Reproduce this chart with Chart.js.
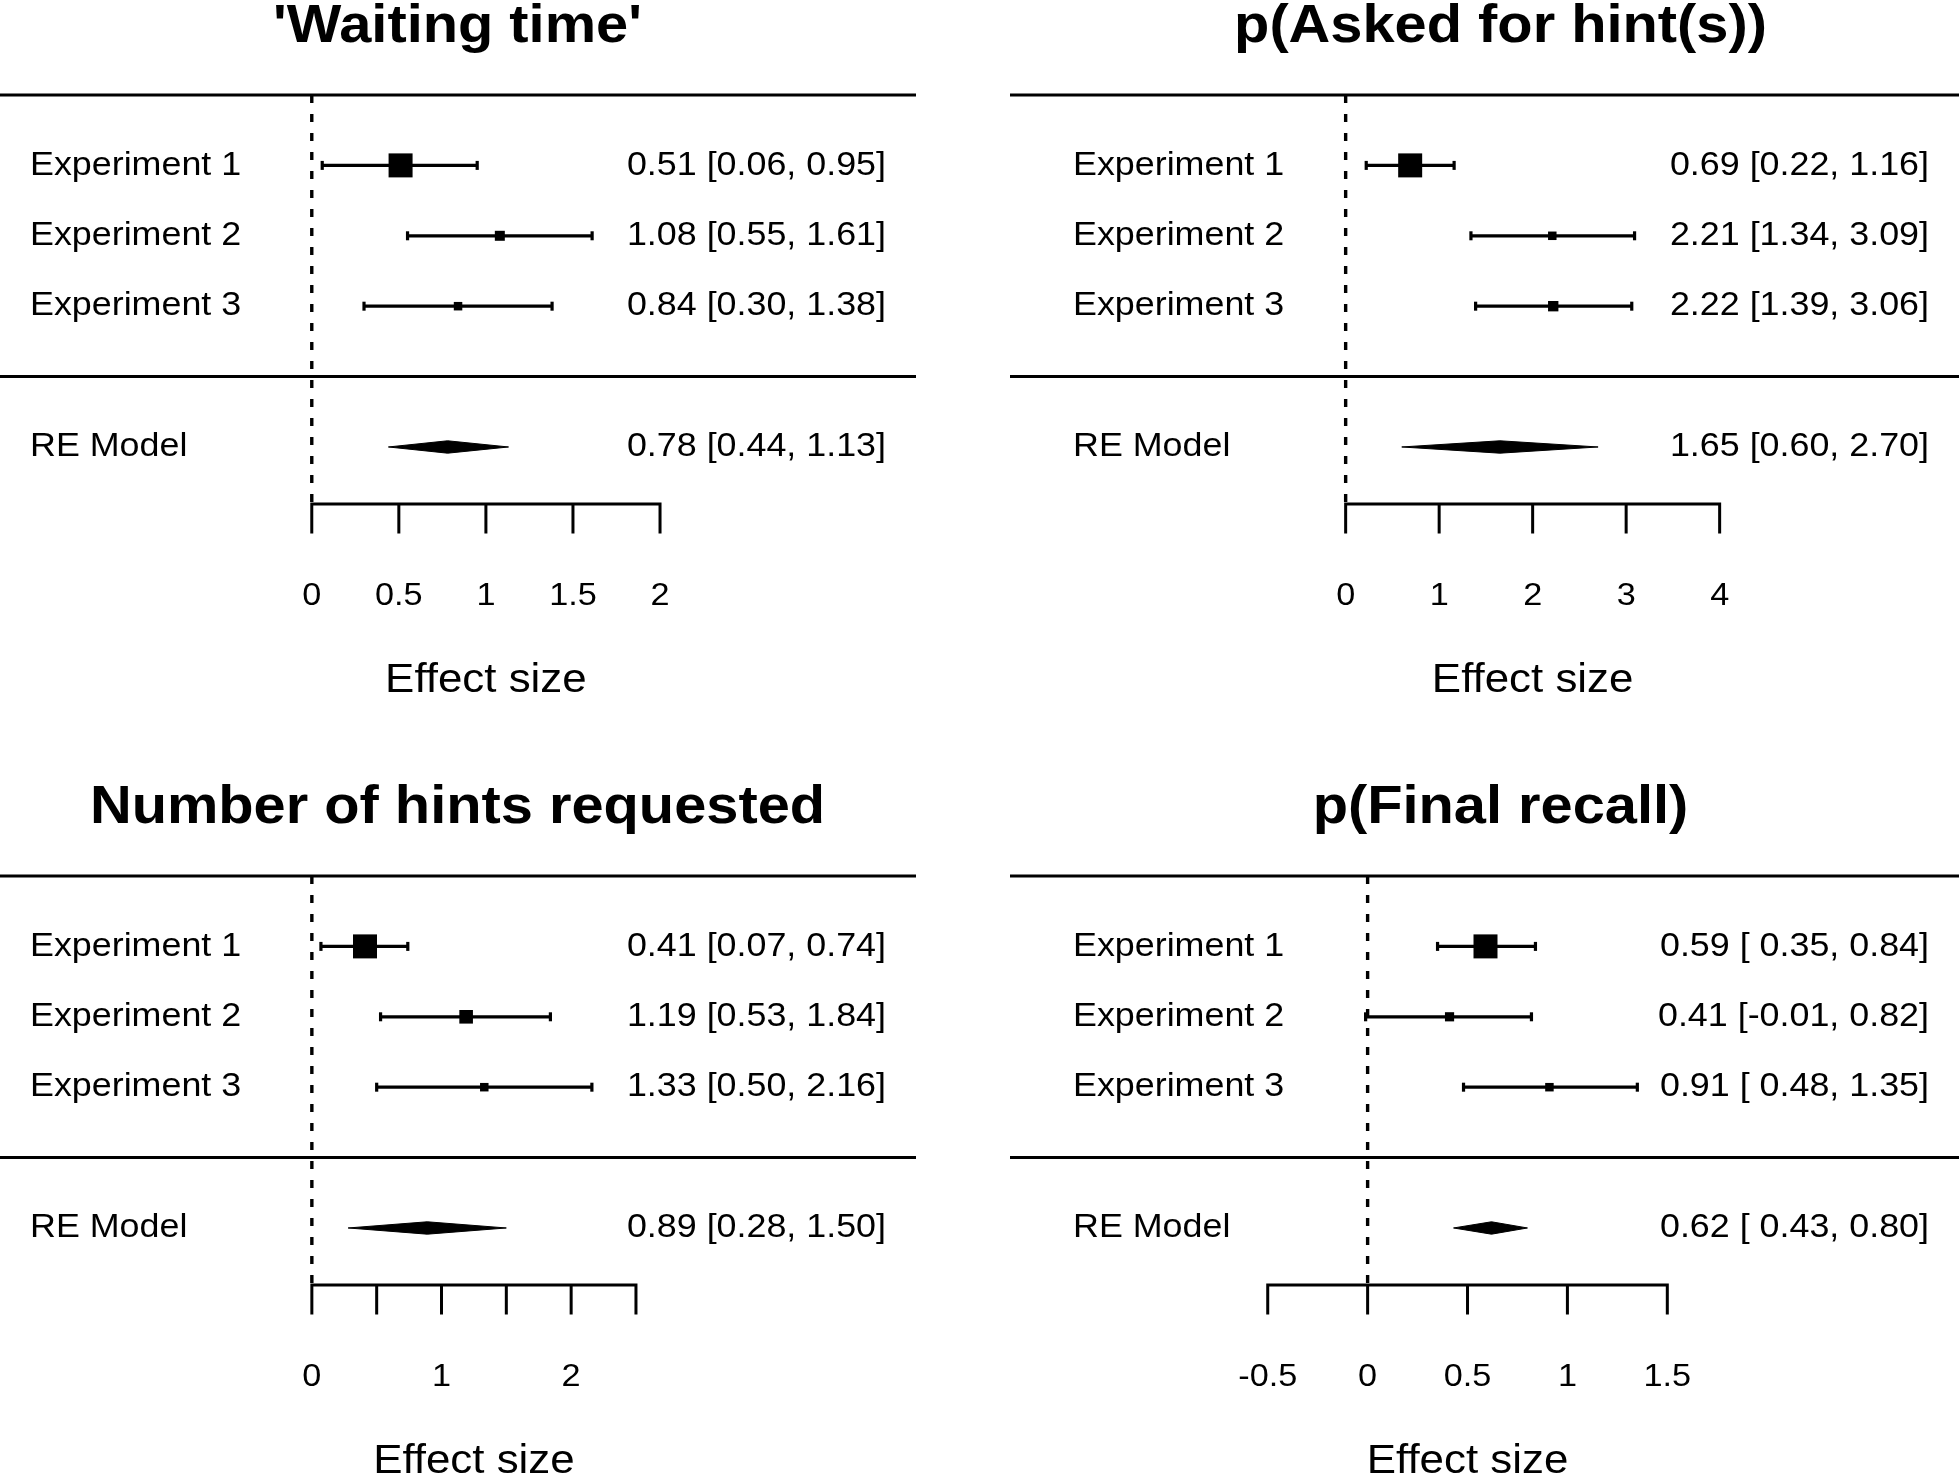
<!DOCTYPE html>
<html>
<head>
<meta charset="utf-8">
<script src="https://cdn.jsdelivr.net/npm/chart.js@4.4.1/dist/chart.umd.min.js"></script>
<style>
  html, body { margin: 0; padding: 0; background: #fff; }
  body { width: 1959px; height: 1476px; position: relative; overflow: hidden; }
  canvas { position: absolute; }
</style>
</head>
<body>
<canvas id="waiting"></canvas>
<canvas id="asked"></canvas>
<canvas id="hints"></canvas>
<canvas id="recall"></canvas>
<script>
const studies = ['Experiment 1', 'Experiment 2', 'Experiment 3'];
const summaryLabel = 'RE Model';
const axisTitle = 'Effect size';

// 'Waiting time'
const waitEst = [0.51, 1.08, 0.84];
const waitLow = [0.06, 0.55, 0.30];
const waitHigh = [0.95, 1.61, 1.38];
const waitWeight = [39.3, 30.8, 29.9];
const waitRE = [0.78, 0.44, 1.13]; // estimate, lower, upper
const waitTicks = [0, 0.5, 1, 1.5, 2];
const waitTickLabels = ['0', '0.5', '1', '1.5', '2'];

// p(Asked for hint(s))
const askEst = [0.69, 2.21, 2.22];
const askLow = [0.22, 1.34, 1.39];
const askHigh = [1.16, 3.09, 3.06];
const askWeight = [37.0, 31.2, 31.9];
const askRE = [1.65, 0.60, 2.70];
const askTicks = [0, 1, 2, 3, 4];
const askTickLabels = ['0', '1', '2', '3', '4'];

// Number of hints requested
const hintEst = [0.41, 1.19, 1.33];
const hintLow = [0.07, 0.53, 0.50];
const hintHigh = [0.74, 1.84, 2.16];
const hintWeight = [42.8, 31.4, 25.8];
const hintRE = [0.89, 0.28, 1.50];
const hintTicks = [0, 0.5, 1, 1.5, 2, 2.5];
const hintTickLabels = ['0', '', '1', '', '2', ''];

// p(Final recall)
const recallEst = [0.59, 0.41, 0.91];
const recallLow = [0.35, -0.01, 0.48];
const recallHigh = [0.84, 0.82, 1.35];
const recallWeight = [60.0, 20.9, 19.1];
const recallRE = [0.62, 0.43, 0.80];
const recallTicks = [-0.5, 0, 0.5, 1, 1.5];
const recallTickLabels = ['-0.5', '0', '0.5', '1', '1.5'];

// layout
const COL_LEFT = [-33, 1010];
const COL_WIDTH = 949;
const ROW_TOP = [0, 781];
const ROW_HEIGHT = [781, 695];
const PLOT_TOP = 95;
const PLOT_BOTTOM = 504;
const YMIN = -1.81;
const DIAMOND_H = 0.088;
const MIN_SIDE = 8.5, MAX_SIDE = 24;
const TICK_LEN = 28;
const FAMILY = '"Liberation Sans", Arial, Helvetica, sans-serif';
const TEXT_SX = 1.07;

function drawText(ctx, str, x, y, align, font) {
  ctx.save();
  ctx.font = font;
  ctx.textAlign = align;
  ctx.textBaseline = 'middle';
  ctx.translate(x, y);
  ctx.scale(TEXT_SX, 1);
  ctx.fillText(str, 0, 0);
  ctx.restore();
}

// "0.59 [ 0.35, 0.84]" style, columns padded like R does
function annotations(p) {
  const cols = [p.est.concat(p.re[0]), p.low.concat(p.re[1]), p.high.concat(p.re[2])]
    .map(c => c.map(v => v.toFixed(2)))
    .map(c => { const w = Math.max(...c.map(s => s.length)); return c.map(s => s.padStart(w, ' ')); });
  return cols[0].map((e, i) => e + ' [' + cols[1][i] + ', ' + cols[2][i] + ']');
}

function forestPlugin(p) {
  return {
    id: 'forestText',
    afterDatasetsDraw(chart) {
      const { ctx, chartArea: a, scales: { x, y } } = chart;
      const k = p.est.length;
      const ann = annotations(p);
      ctx.save();
      ctx.fillStyle = '#000';
      ctx.strokeStyle = '#000';

      drawText(ctx, p.title, (a.left + a.right) / 2 + 16, 27, 'center', 'bold 54px ' + FAMILY);

      const labels = studies.concat(summaryLabel);
      const rows = p.est.map((_, i) => k - i).concat(-1);
      labels.forEach((lab, i) => {
        const ry = y.getPixelForValue(rows[i]);
        drawText(ctx, lab, a.left + 63, ry, 'left', '33.5px ' + FAMILY);
        drawText(ctx, ann[i], a.right - 30, ry, 'right', '33.5px ' + FAMILY);
      });

      // axis
      const ay = y.getPixelForValue(YMIN);
      ctx.lineWidth = 3;
      ctx.lineCap = 'square';
      ctx.beginPath();
      ctx.moveTo(x.getPixelForValue(p.ticks[0]), ay);
      ctx.lineTo(x.getPixelForValue(p.ticks[p.ticks.length - 1]), ay);
      p.ticks.forEach(t => {
        const tx = x.getPixelForValue(t);
        ctx.moveTo(tx, ay);
        ctx.lineTo(tx, ay + TICK_LEN);
      });
      ctx.stroke();
      p.ticks.forEach((t, i) => {
        if (p.tickLabels[i]) drawText(ctx, p.tickLabels[i], x.getPixelForValue(t), ay + 92, 'center', '32px ' + FAMILY);
      });
      const mid = (p.ticks[0] + p.ticks[p.ticks.length - 1]) / 2;
      drawText(ctx, axisTitle, x.getPixelForValue(mid), ay + 177, 'center', '41px ' + FAMILY);
      ctx.restore();
    }
  };
}

function segment(points, extra) {
  return Object.assign({
    data: points, showLine: true, borderColor: '#000', borderWidth: 3,
    pointRadius: 0, clip: false, tension: 0
  }, extra || {});
}

function makeForest(id, col, row, p) {
  const canvas = document.getElementById(id);
  const h = ROW_HEIGHT[row];
  canvas.width = COL_WIDTH;
  canvas.height = h;
  canvas.style.left = COL_LEFT[col] + 'px';
  canvas.style.top = ROW_TOP[row] + 'px';
  canvas.style.width = COL_WIDTH + 'px';
  canvas.style.height = h + 'px';

  const k = p.est.length;
  const rows = p.est.map((_, i) => k - i);
  const wMin = Math.min(...p.weight), wMax = Math.max(...p.weight);
  const datasets = [];

  // top rule and separator above the summary row
  [k + 1, 0].forEach(r => datasets.push(segment([{ x: p.xlim[0], y: r }, { x: p.xlim[1], y: r }])));
  // dotted line at zero
  datasets.push(segment([{ x: 0, y: k + 1 }, { x: 0, y: YMIN }], { borderDash: [8, 11], borderWidth: 3.4 }));
  // confidence intervals with end caps
  p.est.forEach((e, i) => datasets.push(segment(
    [{ x: p.low[i], y: rows[i] }, { x: p.high[i], y: rows[i] }],
    { pointStyle: 'line', pointRotation: 90, pointRadius: 4.5, pointBorderWidth: 3.2, pointBorderColor: '#000', borderWidth: 3.2 }
  )));
  // squares sized by weight
  datasets.push({
    data: p.est.map((e, i) => ({ x: e, y: rows[i] })),
    pointStyle: 'rect', pointBackgroundColor: '#000', pointBorderWidth: 0, clip: false,
    pointRadius: c => {
      const w = p.weight[c.dataIndex];
      return (MIN_SIDE + (MAX_SIDE - MIN_SIDE) * (w - wMin) / (wMax - wMin)) / Math.SQRT2;
    }
  });
  // summary diamond
  const [m, lo, hi] = p.re;
  datasets.push(segment(
    [{ x: lo, y: -1 }, { x: m, y: -1 + DIAMOND_H }, { x: hi, y: -1 }, { x: m, y: -1 - DIAMOND_H }, { x: lo, y: -1 }],
    { fill: 'shape', backgroundColor: '#000', borderWidth: 1 }
  ));

  return new Chart(canvas.getContext('2d'), {
    type: 'scatter',
    data: { datasets },
    options: {
      responsive: false,
      animation: false,
      events: [],
      layout: { autoPadding: false, padding: { top: PLOT_TOP, bottom: h - PLOT_BOTTOM, left: 0, right: 0 } },
      plugins: { legend: { display: false }, tooltip: { enabled: false } },
      scales: {
        x: { type: 'linear', min: p.xlim[0], max: p.xlim[1], display: false },
        y: { type: 'linear', min: YMIN, max: k + 1, display: false }
      }
    },
    plugins: [forestPlugin(p)]
  });
}

makeForest('waiting', 0, 0, {
  title: "'Waiting time'", est: waitEst, low: waitLow, high: waitHigh, weight: waitWeight, re: waitRE,
  ticks: waitTicks, tickLabels: waitTickLabels, xlim: [-1.98, 3.47]
});
makeForest('asked', 1, 0, {
  title: 'p(Asked for hint(s))', est: askEst, low: askLow, high: askHigh, weight: askWeight, re: askRE,
  ticks: askTicks, tickLabels: askTickLabels, xlim: [-3.59, 6.56]
});
makeForest('hints', 0, 1, {
  title: 'Number of hints requested', est: hintEst, low: hintLow, high: hintHigh, weight: hintWeight, re: hintRE,
  ticks: hintTicks, tickLabels: hintTickLabels, xlim: [-2.66, 4.66]
});
makeForest('recall', 1, 1, {
  title: 'p(Final recall)', est: recallEst, low: recallLow, high: recallHigh, weight: recallWeight, re: recallRE,
  ticks: recallTicks, tickLabels: recallTickLabels, xlim: [-1.79, 2.96]
});
</script>
</body>
</html>
